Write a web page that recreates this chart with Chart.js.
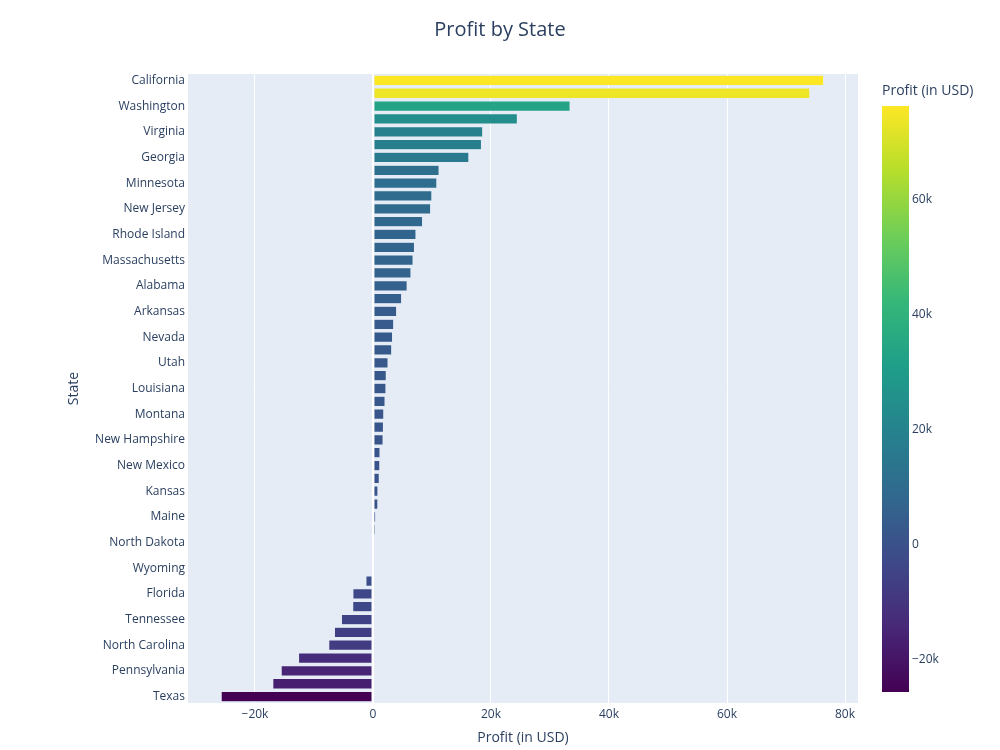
<!DOCTYPE html>
<html>
<head>
<meta charset="utf-8">
<script src="https://cdn.jsdelivr.net/npm/chart.js@4"></script>
<style>
  body { margin: 0; background: #fff; }
  #wrap { width: 1000px; height: 750px; }
</style>
</head>
<body>
<div id="wrap"><canvas id="profitChart"></canvas></div>
<script>
const states = [
  "California", "New York", "Washington", "Michigan", "Virginia", "Indiana",
  "Georgia", "Kentucky", "Minnesota", "Delaware", "New Jersey", "Wisconsin",
  "Rhode Island", "Maryland", "Massachusetts", "Missouri", "Alabama", "Oklahoma",
  "Arkansas", "Connecticut", "Nevada", "Mississippi", "Utah", "Vermont",
  "Louisiana", "Nebraska", "Montana", "South Carolina", "New Hampshire", "Iowa",
  "New Mexico", "District of Columbia", "Kansas", "Idaho", "Maine", "South Dakota",
  "North Dakota", "West Virginia", "Wyoming", "Oregon", "Florida", "Arizona",
  "Tennessee", "Colorado", "North Carolina", "Illinois", "Pennsylvania", "Ohio",
  "Texas",
];
const profits = [
  76381, 74039, 33403, 24463, 18598, 18383,
  16250, 11200, 10823, 9977, 9773, 8402,
  7286, 7031, 6786, 6436, 5787, 4854,
  4009, 3511, 3317, 3172, 2547, 2245,
  2196, 2037, 1833, 1769, 1707, 1184,
  1157, 1060, 836, 827, 454, 395,
  230, 186, 100, -1190, -3399, -3428,
  -5342, -6528, -7491, -12608, -15560, -16971,
  -25729,
];
const xTicks = [-20000, 0, 20000, 40000, 60000, 80000];
const colorbarTicks = [-20000, 0, 20000, 40000, 60000];

// plotly viridis
const viridis = [
  [0, "#440154"], [0.1111, "#482878"], [0.2222, "#3e4989"], [0.3333, "#31688e"],
  [0.4444, "#26828e"], [0.5556, "#1f9e89"], [0.6667, "#35b779"], [0.7778, "#6ece58"],
  [0.8889, "#b5de2b"], [1, "#fde725"],
];
const cmin = Math.min(...profits);
const cmax = Math.max(...profits);

function hexToRgb(h) {
  return [parseInt(h.slice(1, 3), 16), parseInt(h.slice(3, 5), 16), parseInt(h.slice(5, 7), 16)];
}
function viridisColor(v) {
  const t = Math.max(0, Math.min(1, (v - cmin) / (cmax - cmin)));
  for (let i = 1; i < viridis.length; i++) {
    if (t <= viridis[i][0]) {
      const a = viridis[i - 1], b = viridis[i];
      const f = (t - a[0]) / (b[0] - a[0]);
      const ca = hexToRgb(a[1]), cb = hexToRgb(b[1]);
      const c = ca.map((x, k) => Math.round(x + (cb[k] - x) * f));
      return "rgb(" + c.join(",") + ")";
    }
  }
  return viridis[viridis.length - 1][1];
}

function kLabel(v) {
  if (v === 0) return "0";
  const s = Math.abs(v) / 1000 + "k";
  return v < 0 ? "\u2212" + s : s;
}

const fontFamily = '"Open Sans", verdana, arial, sans-serif';
const textColor = "#2a3f5f";

// plot background + colorbar legend in the space kept free by the "cb" axis
const colorbarPlugin = {
  id: "colorbar",
  beforeDraw(chart) {
    const { ctx, chartArea } = chart;
    ctx.save();
    ctx.fillStyle = "#E5ECF6";
    ctx.fillRect(chartArea.left, chartArea.top, chartArea.right - chartArea.left, chartArea.bottom - chartArea.top);
    ctx.restore();
  },
  afterDraw(chart) {
    const { ctx, chartArea } = chart;
    const cb = chart.scales.cb;
    const yTop = chartArea.top + 32;
    const yBot = chartArea.bottom - 11;
    const yOf = (v) => yBot - ((v - cmin) / (cmax - cmin)) * (yBot - yTop);
    const x0 = cb.left + 24;
    const w = 27;
    const grad = ctx.createLinearGradient(0, yBot, 0, yTop);
    viridis.forEach(([s, c]) => grad.addColorStop(s, c));
    ctx.save();
    ctx.fillStyle = grad;
    ctx.fillRect(x0, yTop, w, yBot - yTop);
    ctx.fillStyle = textColor;
    ctx.textAlign = "left";
    ctx.textBaseline = "middle";
    ctx.font = "12px " + fontFamily;
    colorbarTicks.forEach((v) => ctx.fillText(kLabel(v), x0 + w + 3, yOf(v)));
    ctx.font = "14px " + fontFamily;
    ctx.fillText("Profit (in USD)", x0, 91);
    ctx.restore();
  },
};

const config = {
  type: "bar",
  data: {
    labels: states,
    datasets: [
      {
        label: "Profit",
        data: profits,
        backgroundColor: profits.map(viridisColor),
        borderColor: "#E5ECF6",
        borderWidth: 0.5,
        borderSkipped: false,
        categoryPercentage: 0.8,
        barPercentage: 1,
      },
    ],
  },
  options: {
    indexAxis: "y",
    responsive: true,
    maintainAspectRatio: false,
    animation: false,
    layout: { padding: 0 },
    plugins: {
      legend: { display: false },
      tooltip: { enabled: false },
      title: {
        display: true,
        text: "Profit by State",
        color: textColor,
        font: { family: fontFamily, size: 20, weight: "normal" },
        padding: { top: 18, bottom: 32 },
      },
    },
    scales: {
      x: {
        type: "linear",
        min: -31350,
        max: 82200,
        afterBuildTicks: (scale) => { scale.ticks = xTicks.map((v) => ({ value: v })); },
        ticks: {
          color: textColor,
          font: { family: fontFamily, size: 12 },
          padding: 4,
          callback: (v) => kLabel(v),
        },
        grid: { color: "#ffffff", lineWidth: (c) => (c.tick && c.tick.value === 0 ? 2 : 1), drawTicks: false },
        border: { display: false },
        title: {
          display: true,
          text: "Profit (in USD)",
          color: textColor,
          font: { family: fontFamily, size: 14 },
          padding: { top: 12, bottom: 4 },
        },
        afterFit: (scale) => { scale.height = 47; },
      },
      y: {
        type: "category",
        ticks: {
          autoSkip: false,
          color: textColor,
          font: { family: fontFamily, size: 12 },
          padding: 3,
          callback: function (v, i) { return i % 2 === 0 ? this.getLabelForValue(v) : ""; },
        },
        grid: { display: false, drawTicks: false },
        border: { display: false },
        title: {
          display: true,
          text: "State",
          color: textColor,
          font: { family: fontFamily, size: 14 },
          padding: { top: 66, bottom: 4 },
        },
        afterFit: (scale) => { scale.width = 188; },
      },
      cb: {
        type: "linear",
        position: "right",
        axis: "y",
        min: cmin,
        max: cmax,
        ticks: { display: false },
        grid: { display: false, drawTicks: false },
        border: { display: false },
        afterFit: (scale) => { scale.width = 142; },
      },
    },
  },
  plugins: [colorbarPlugin],
};

const profitChart = new Chart(document.getElementById("profitChart"), config);
</script>
</body>
</html>
